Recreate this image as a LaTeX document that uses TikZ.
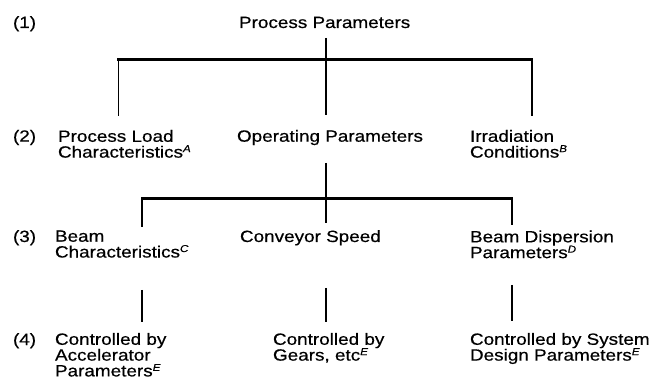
\documentclass[tikz,border=0pt]{standalone}
\usepackage{fontspec}
\setmainfont{Liberation Sans}[FakeStretch=1.16,FakeBold=0.5]
\newcommand\supx[1]{\raisebox{5.5pt}{\fontsize{10}{10}\selectfont\itshape #1}}
\begin{document}
\begin{tikzpicture}[x=1pt,y=-1pt,
  txt/.style={inner sep=0pt,outer sep=0pt,align=left,font=\fontsize{16.3}{15.8}\selectfont},
  lbl/.style={txt,anchor=base west},
  blk/.style={txt,anchor=north west},
  bar/.style={line width=2.8pt,line cap=rect},
  stem/.style={line width=1.7pt},
  thinstem/.style={line width=1.2pt}]
\useasboundingbox (0,0) rectangle (657,385);
% row labels
\node[lbl] (r1) at (13,28) {(1)};
\node[lbl] (r2) at (13,141.7) {(2)};
\node[lbl] (r3) at (13,242) {(3)};
\node[lbl] (r4) at (13,345) {(4)};
% level 1
\node[lbl] (pp) at (239,28) {Process Parameters};
% level 2
\node[blk] (plc) at (58,130) {Process Load\\Characteristics\supx{A}};
\node[lbl] (op) at (237,141.7) {Operating Parameters};
\node[blk] (ic) at (470,130) {Irradiation\\Conditions\supx{B}};
% level 3
\node[blk] (bc) at (55,230.5) {Beam\\Characteristics\supx{C}};
\node[lbl] (cs) at (240,242) {Conveyor Speed};
\node[blk] (bd) at (470,230.5) {Beam Dispersion\\Parameters\supx{D}};
% level 4
\node[blk] (ca) at (55,333) {Controlled by\\Accelerator\\Parameters\supx{E}};
\node[blk] (cg) at (273,333) {Controlled by\\Gears, etc\supx{E}};
\node[blk] (csd) at (470,333) {Controlled by System\\Design Parameters\supx{E}};
% junction coordinates
\coordinate (a0) at (326,38);
\coordinate (a1) at (326,59.5);
\coordinate (aL) at (118.5,59.5);
\coordinate (aR) at (532,59.5);
\coordinate (aLe) at (118.5,116);
\coordinate (aCe) at (326,115);
\coordinate (aRe) at (532,116);
\coordinate (b0) at (326,163);
\coordinate (b1) at (326,198.5);
\coordinate (bL) at (142,198.5);
\coordinate (bR) at (512,198.5);
\coordinate (bLe) at (142,227);
\coordinate (bCe) at (326,223);
\coordinate (bRe) at (512,225);
\coordinate (cL0) at (142,290);
\coordinate (cL1) at (142,322.5);
\coordinate (cC0) at (326,288);
\coordinate (cC1) at (326,322.5);
\coordinate (cR0) at (512,285);
\coordinate (cR1) at (512,321.5);
% connectors
\draw[bar] (aL) -- (aR);
\draw[thinstem] (a0) -- (aCe);
\draw[stem] (aL) -- (aLe);
\draw[stem] (aR) -- (aRe);
\draw[bar] (bL) -- (bR);
\draw[thinstem] (b0) -- (bCe);
\draw[stem] (bL) -- (bLe);
\draw[stem] (bR) -- (bRe);
\draw[stem] (cL0) -- (cL1);
\draw[stem] (cC0) -- (cC1);
\draw[stem] (cR0) -- (cR1);
\end{tikzpicture}
\end{document}
